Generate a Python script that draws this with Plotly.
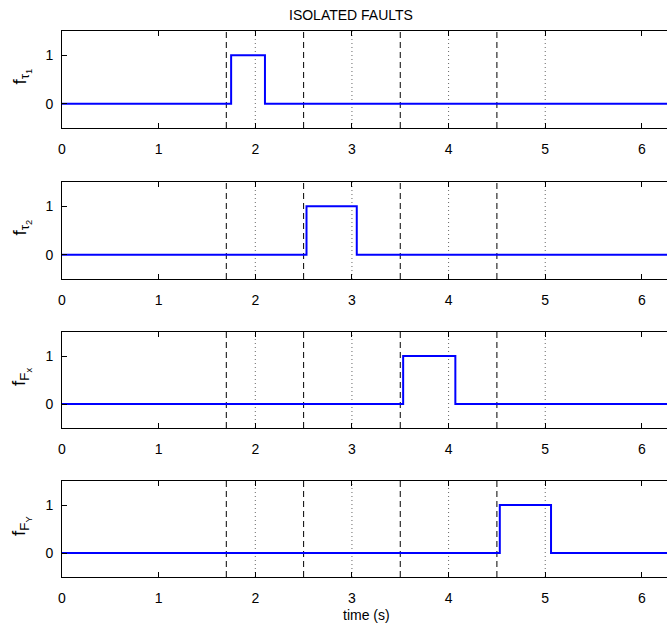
import plotly.graph_objects as go
from plotly.subplots import make_subplots

# ---- data ----
signal_labels = ["f<sub>τ<sub>1</sub></sub>", "f<sub>τ<sub>2</sub></sub>",
                 "f<sub>F<sub>x</sub></sub>", "f<sub>F<sub>Y</sub></sub>"]
fault_start = [1.75, 2.53, 3.53, 4.53]
fault_end = [2.10, 3.05, 4.07, 5.06]
t_min, t_max = 0.0, 6.2832
dashed_times = [1.7, 2.5, 3.5, 4.5]
dotted_times = [2.0, 3.0, 4.0, 5.0]
x_ticks = [0, 1, 2, 3, 4, 5, 6]
y_ticks = [0, 1]
title_text = "ISOLATED FAULTS"
xlabel_text = "time (s)"

W, H = 667, 628
L = 62
FONT = "Liberation Sans, Arial, Helvetica, sans-serif"

# panel top/bottom pixel positions
panels_px = [(31, 128), (182, 279), (332, 428), (481, 577)]

fig = make_subplots(rows=4, cols=1)

for i in range(4):
    xs = [t_min, fault_start[i], fault_start[i], fault_end[i], fault_end[i], t_max]
    ys = [0, 0, 1, 1, 0, 0]
    fig.add_trace(go.Scatter(x=xs, y=ys, mode="lines",
                             line=dict(color="#0000ff", width=2),
                             showlegend=False, hoverinfo="skip"),
                  row=i + 1, col=1)
    top, bot = panels_px[i]
    ax = "" if i == 0 else str(i + 1)
    fig.layout["yaxis" + ax].update(domain=[(H - bot) / H, (H - top) / H])
    for t in dashed_times:
        fig.add_shape(type="line", x0=t, x1=t, y0=0, y1=1,
                      xref="x" + ax, yref="y" + ax + " domain",
                      line=dict(color="black", width=1, dash="6px,4px"), layer="below")
    for t in dotted_times:
        fig.add_shape(type="line", x0=t, x1=t, y0=0, y1=1,
                      xref="x" + ax, yref="y" + ax + " domain",
                      line=dict(color="#666666", width=1, dash="1px,3px"), layer="below")
    # y label
    fig.add_annotation(text=signal_labels[i], xref="paper", yref="paper",
                       x=(21 - L) / (W - L), y=(H - (top + bot) / 2 + 3) / H,
                       textangle=-90, showarrow=False, xanchor="center", yanchor="middle",
                       font=dict(size=19, color="black", family=FONT))

fig.update_xaxes(range=[t_min, 6.26], tickvals=x_ticks, ticks="inside", ticklen=5,
                 showline=True, linecolor="black", linewidth=1, mirror="ticks",
                 showgrid=False, zeroline=False, tickcolor="black",
                 ticklabelstandoff=8,
                 tickfont=dict(size=14, color="black", family=FONT))
fig.update_yaxes(range=[-0.5, 1.5], tickvals=y_ticks, ticks="inside", ticklen=5,
                 showline=True, linecolor="black", linewidth=1, mirror=False,
                 showgrid=False, zeroline=False, tickcolor="black",
                 ticklabelstandoff=5,
                 tickfont=dict(size=14, color="black", family=FONT))

fig.add_annotation(text=title_text, xref="paper", yref="paper",
                   x=(351 - L) / (W - L), y=(H - 15) / H, showarrow=False,
                   xanchor="center", yanchor="middle",
                   font=dict(size=14, color="black", family=FONT))
fig.add_annotation(text=xlabel_text, xref="paper", yref="paper",
                   x=(366 - L) / (W - L), y=(H - 615) / H, showarrow=False,
                   xanchor="center", yanchor="middle",
                   font=dict(size=14, color="black", family=FONT))

fig.update_layout(width=W, height=H, margin=dict(l=L, r=0, t=0, b=0),
                  plot_bgcolor="white", paper_bgcolor="white",
                  font=dict(family=FONT, color="black"))

fig.write_html("out.html", config={"displayModeBar": False},
               post_script="document.body.style.margin='0px';")
